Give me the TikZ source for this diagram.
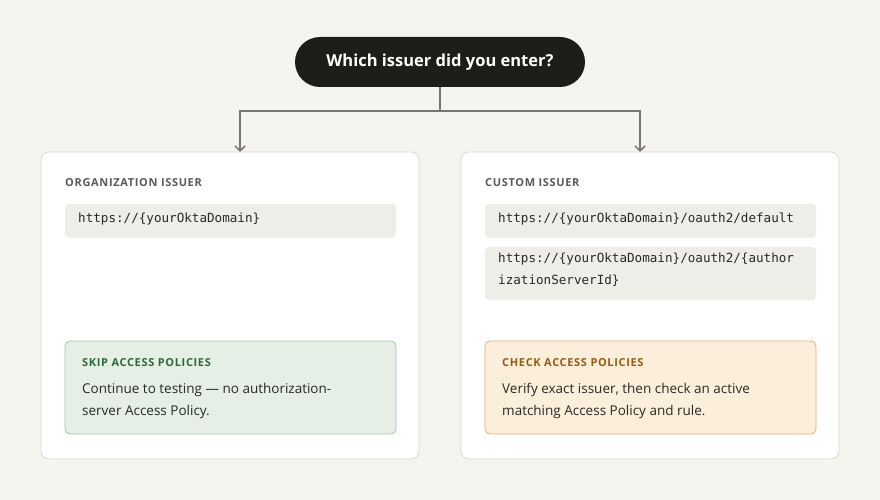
\documentclass[tikz,border=0pt]{standalone}
\usepackage{fontspec}
\setmainfont{Open Sans}
\newfontfamily\codefont{DejaVu Sans Mono}
\usetikzlibrary{arrows.meta,positioning}
\definecolor{bgpaper}{HTML}{F6F4EF}
\definecolor{pillink}{HTML}{1F1D1A}
\definecolor{wireclr}{HTML}{7A7770}
\definecolor{cardline}{HTML}{DCD8CF}
\definecolor{codebg}{HTML}{EFEDE8}
\definecolor{headclr}{HTML}{5D5A54}
\definecolor{skipbg}{HTML}{E5EFE6}
\definecolor{skipline}{HTML}{9FC7A6}
\definecolor{skipink}{HTML}{2E6B3A}
\definecolor{checkbg}{HTML}{FBEEDB}
\definecolor{checkline}{HTML}{E0B46A}
\definecolor{checkink}{HTML}{9A5A0F}
\definecolor{bodyink}{HTML}{2B2925}
\begin{document}
\begin{tikzpicture}[x=1pt, y=-1pt, >={Straight Barb[length=5pt,width=10pt]},
  card/.style={draw=cardline, fill=white, rounded corners=8pt, line width=0.8pt},
  codebox/.style={fill=codebg, rounded corners=4pt},
  head/.style={anchor=west, font=\fontsize{11}{13}\selectfont\bfseries\addfontfeatures{LetterSpace=6}, text=headclr, inner sep=0pt},
  code/.style={anchor=north west, font=\codefont\fontsize{12.6}{22}\selectfont, text=bodyink, inner sep=0pt, align=left},
  body/.style={anchor=north west, font=\fontsize{13.5}{22}\selectfont, text=bodyink, inner sep=0pt, align=left},
  wire/.style={draw=wireclr, line width=1.5pt}]
\useasboundingbox[fill=bgpaper] (0,0) rectangle (880,500);

% question
\node[fill=pillink, rounded corners=25pt, minimum width=290pt, minimum height=50pt, text=white,
  font=\fontsize{16.5}{20}\selectfont\bfseries] (question) at (440,62) {Which issuer did you enter?};
\coordinate (split) at (440,111);
\coordinate (orgtop) at (240,152);
\coordinate (custtop) at (640,152);
\draw[wire] (question.south) -- (split);
\draw[wire,->] (split) -| (orgtop);
\draw[wire,->] (split) -| (custtop);

% organization issuer
\path[card] (41,152) rectangle (419,459);
\node[head] (orghead) at (65,183) {ORGANIZATION ISSUER};
\path[codebox] (65,204) rectangle (396,238);
\node[code] (orgurl) at (78,213) {https://\{yourOktaDomain\}};
\path[fill=skipbg, draw=skipline, rounded corners=5pt, line width=0.8pt] (65,341) rectangle (396,434);
\node[head, text=skipink] (skiphead) at (82,363) {SKIP ACCESS POLICIES};
\node[body] (skiptext) at (82,383) {Continue to testing — no authorization-\\server Access Policy.};

% custom issuer
\path[card] (461,152) rectangle (839,459);
\node[head] (custhead) at (485,183) {CUSTOM ISSUER};
\path[codebox] (485,204) rectangle (816,238);
\node[code] (defurl) at (498,213) {https://\{yourOktaDomain\}/oauth2/default};
\path[codebox] (485,247) rectangle (816,300);
\node[code] (authurl) at (498,253) {https://\{yourOktaDomain\}/oauth2/\{author\\izationServerId\}};
\path[fill=checkbg, draw=checkline, rounded corners=5pt, line width=0.8pt] (485,341) rectangle (816,434);
\node[head, text=checkink] (checkhead) at (502,363) {CHECK ACCESS POLICIES};
\node[body] (checktext) at (502,383) {Verify exact issuer, then check an active\\matching Access Policy and rule.};
\end{tikzpicture}
\end{document}
